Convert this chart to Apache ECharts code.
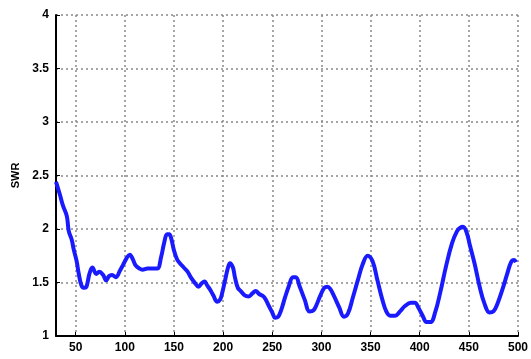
<!DOCTYPE html>
<html><head><meta charset="utf-8">
<script src="https://cdn.jsdelivr.net/npm/echarts@6/dist/echarts.min.js"></script>
<style>html,body{margin:0;padding:0;background:#fff}#c{width:531px;height:359px}</style>
</head><body><div id="c"></div>
<script>
var xs = [30,34,37,41,43,46,48,51,53,56,59,61,64,67,71,74,78,81,84,87,91,95,98,102,105,108,111,115,118,123,128,133,137,140,143,145,147,150,153,156,160,164,167,171,175,178,181,184,187,190,194,197,199,202,205,207,210,212,215,218,222,226,230,233,237,241,244,246,250,253,256,259,263,267,271,274,278,283,288,292,295,299,303,306,309,313,318,323,327,332,337,342,347,352,357,362,366,370,375,380,385,391,395,399,403,407,411,416,421,427,433,438,441,444,448,451,456,461,466,471,475,479,484,489,493,496,498];
var ys = [2.44,2.32,2.22,2.12,1.98,1.90,1.81,1.70,1.59,1.47,1.45,1.46,1.58,1.64,1.58,1.60,1.57,1.52,1.56,1.57,1.55,1.61,1.66,1.73,1.76,1.72,1.66,1.63,1.62,1.63,1.63,1.63,1.74,1.87,1.95,1.95,1.92,1.80,1.72,1.68,1.64,1.60,1.55,1.50,1.46,1.49,1.51,1.47,1.43,1.38,1.32,1.34,1.40,1.52,1.64,1.68,1.64,1.55,1.45,1.42,1.38,1.37,1.40,1.42,1.39,1.37,1.33,1.29,1.22,1.17,1.18,1.24,1.36,1.47,1.55,1.55,1.46,1.34,1.23,1.24,1.29,1.38,1.45,1.46,1.44,1.37,1.27,1.18,1.21,1.36,1.52,1.67,1.75,1.70,1.52,1.34,1.23,1.19,1.19,1.23,1.28,1.31,1.31,1.26,1.19,1.13,1.13,1.23,1.41,1.66,1.87,1.98,2.01,2.02,1.96,1.85,1.67,1.46,1.30,1.22,1.23,1.30,1.43,1.58,1.69,1.71,1.69];
var xTicks = [50,100,150,200,250,300,350,400,450,500];
var yTicks = [1,1.5,2,2.5,3,3.5,4];
var data = xs.map(function(x,i){return [x, ys[i]];});
var chart = echarts.init(document.getElementById('c'), null, {renderer:'canvas'});
var gridLine = {show:true, lineStyle:{color:'#888', type:[2,3], width:1.5}};
var font = 'Liberation Sans, Arial';
chart.setOption({
  animation:false,
  grid:{left:56, right:10, top:15, bottom:23},
  xAxis:{type:'value', min:30, max:500,
    axisLine:{show:true, onZero:false, lineStyle:{color:'#000', width:2}},
    axisTick:{show:true, inside:true, length:4, customValues:xTicks, lineStyle:{color:'#000'}},
    axisLabel:{color:'#000', fontSize:12, fontWeight:'bold', fontFamily:font, margin:6, customValues:xTicks},
    splitLine:gridLine},
  yAxis:{type:'value', min:1, max:4, interval:0.5, name:'SWR', nameLocation:'middle', nameGap:34,
    nameTextStyle:{color:'#000', fontSize:11, fontWeight:'bold', fontFamily:font},
    axisLine:{show:true, lineStyle:{color:'#000', width:2}},
    axisTick:{show:true, inside:true, length:4, customValues:yTicks, lineStyle:{color:'#000'}},
    axisLabel:{color:'#000', fontSize:12, fontWeight:'bold', fontFamily:font, margin:7, customValues:yTicks},
    splitLine:gridLine},
  series:[{type:'line', data:data, smooth:0.4, showSymbol:false,
    lineStyle:{color:'#1a1aff', width:4}}]
});
</script></body></html>
